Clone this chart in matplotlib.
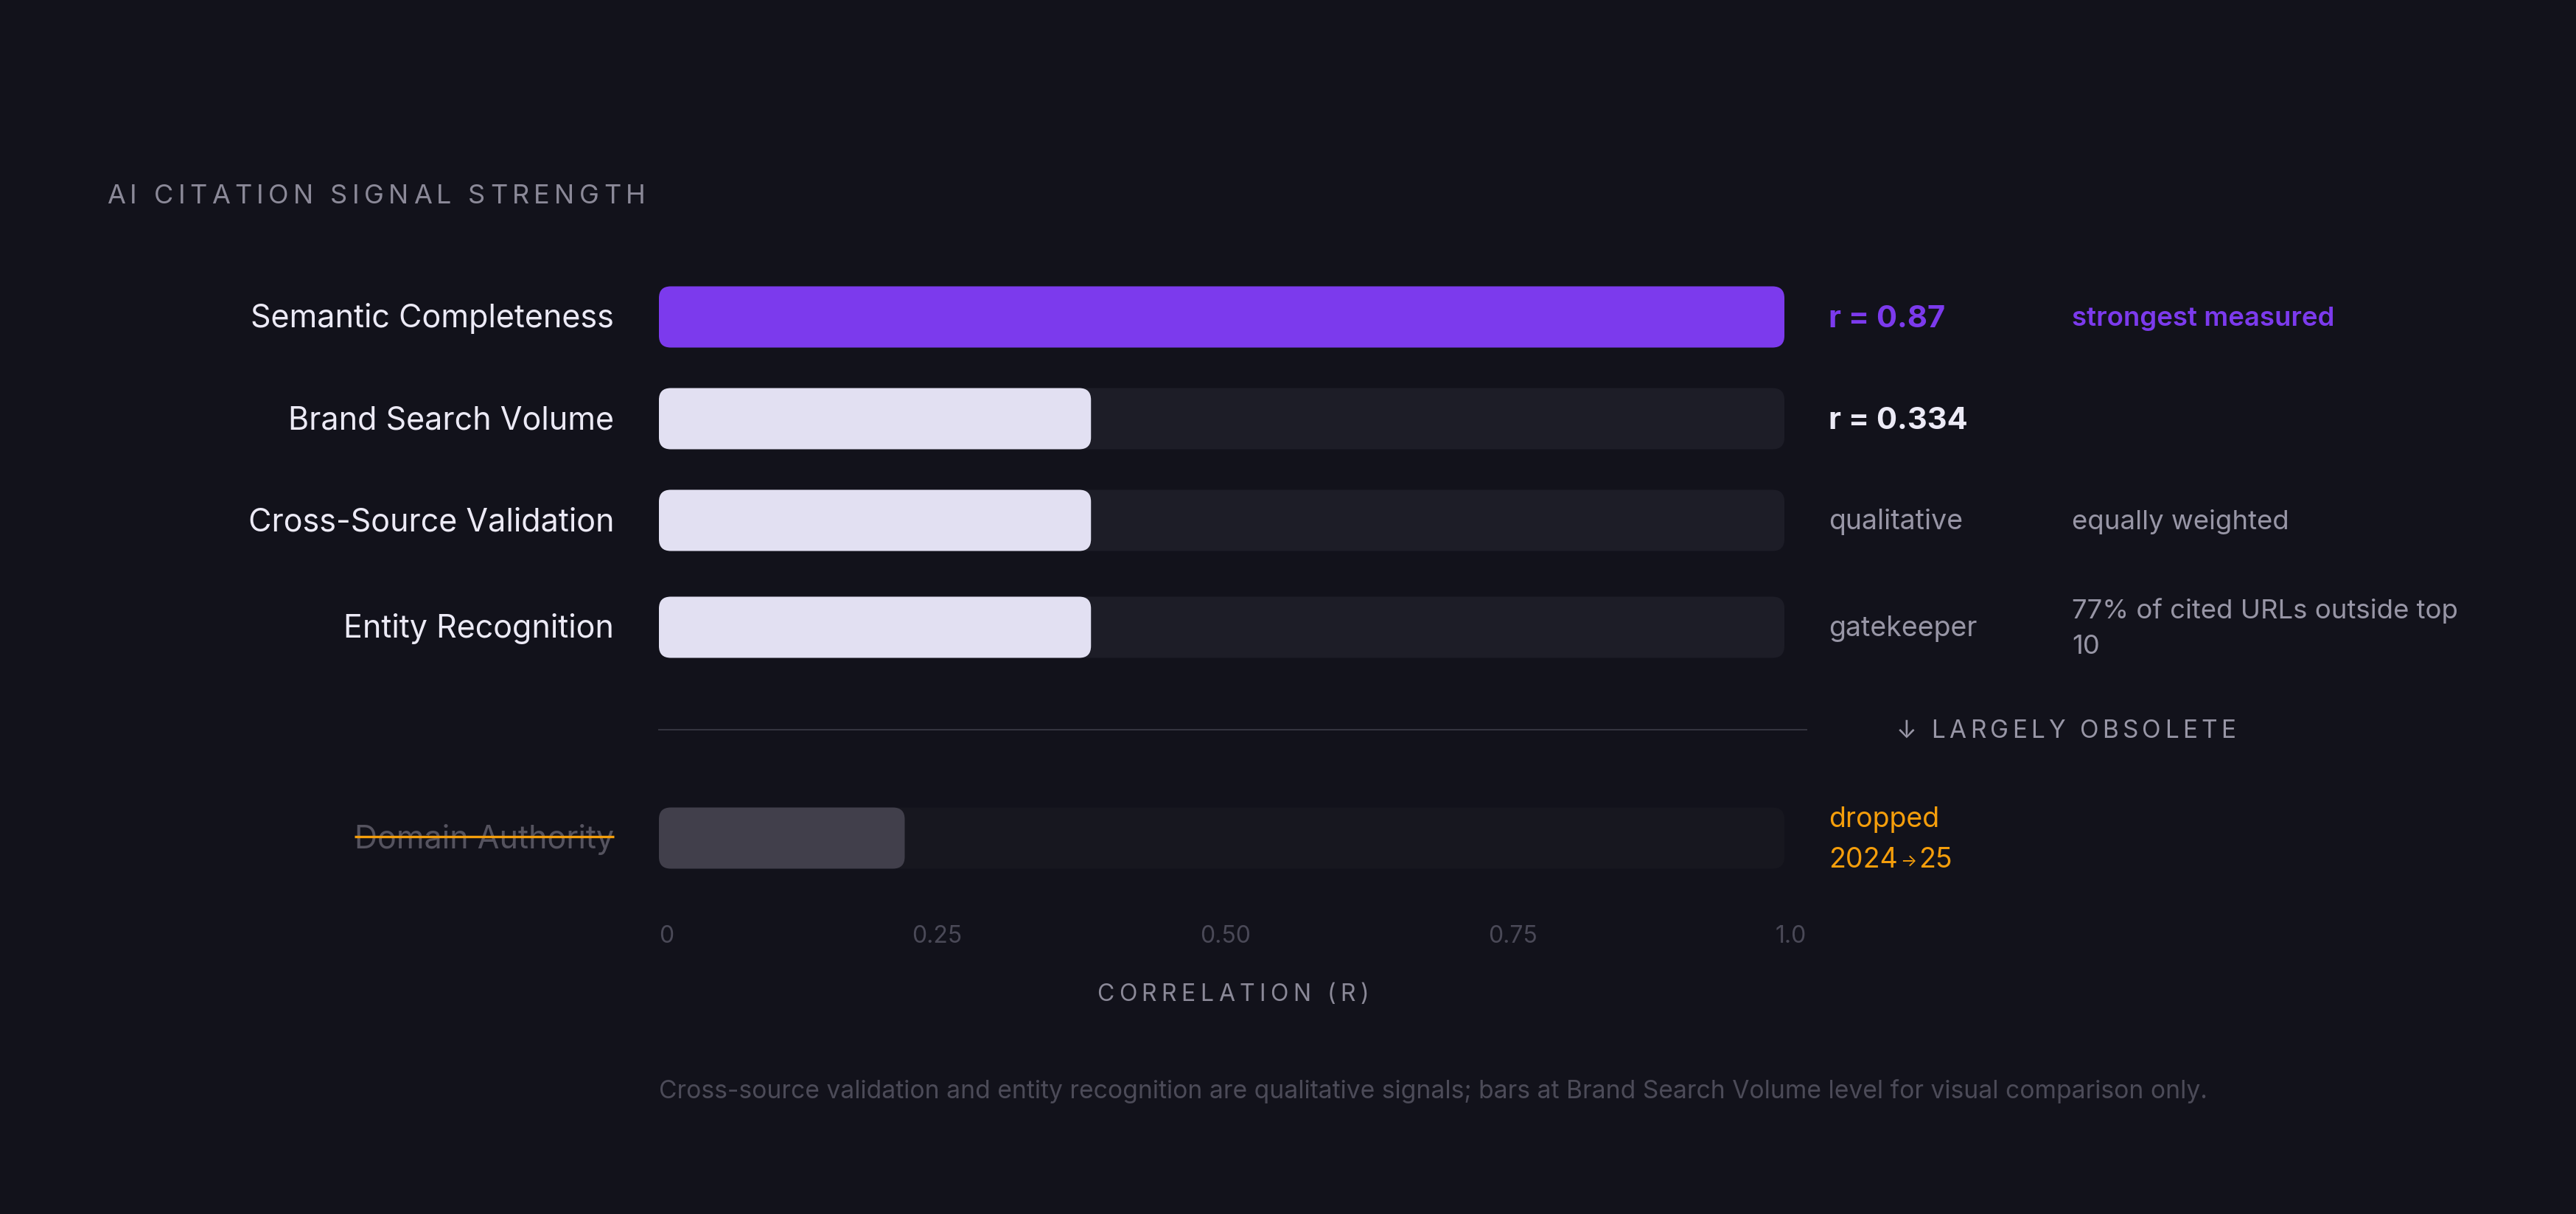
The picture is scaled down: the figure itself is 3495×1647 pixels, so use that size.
import textwrap
import matplotlib
matplotlib.use("Agg")
import matplotlib.pyplot as plt
from matplotlib.patches import FancyBboxPatch
from matplotlib.font_manager import FontProperties

W, H = 3495, 1647

# data
signals = ["Semantic Completeness", "Brand Search Volume", "Cross-Source Validation",
           "Entity Recognition", "Domain Authority"]
bar_r = [0.87, 0.334, 0.334, 0.334, 0.19]
value_labels = ["r = 0.87", "r = 0.334", "qualitative", "gatekeeper", "dropped 2024→25"]
notes = ["strongest measured", "", "equally weighted", "77% of cited URLs outside top 10", ""]
status = ["top", "measured", "qualitative", "qualitative", "obsolete"]
tick_labels = ["0", "0.25", "0.50", "0.75", "1.0"]

title = "AI CITATION SIGNAL STRENGTH"
divider_label = "↓ LARGELY OBSOLETE"
axis_label = "CORRELATION (R)"
footnote = ("Cross-source validation and entity recognition are qualitative signals; "
            "bars at Brand Search Volume level for visual comparison only.")

# style
FONT = ["Inter", "DejaVu Sans"]
BG = "#12121b"
PURPLE = "#7c3aed"
LIGHT = "#e2e0f2"
ORANGE = "#f59e0b"
WHITE = "#eceaf6"
GRAY = "#9896a6"
DIM = "#4a4957"

bar_color = {"top": PURPLE, "measured": LIGHT, "qualitative": LIGHT, "obsolete": "#413f4b"}
track_color = {"top": "#1d1d27", "measured": "#1d1d27", "qualitative": "#1d1d27", "obsolete": "#17171f"}
value_style = {"top": (PURPLE, "bold", 30), "measured": (WHITE, "bold", 30),
               "qualitative": (GRAY, "normal", 27), "obsolete": (ORANGE, "normal", 27)}

# layout (pixels)
row_y = [430, 568, 706, 851, 1137]
bar_h = 83
track_x0, track_x1 = 894, 2421
label_x, value_x, note_x = 833, 2481, 2811

plt.rcParams["font.family"] = FONT
fig = plt.figure(figsize=(W / 100, H / 100), dpi=100, facecolor=BG)
renderer = fig.canvas.get_renderer()

lay = fig.add_axes([0, 0, 1, 1])
lay.set_xlim(0, W)
lay.set_ylim(H, 0)
lay.axis("off")

bx = fig.add_axes([track_x0 / W, 0, (track_x1 - track_x0) / W, 1])
vmax = max(bar_r)
bx.set_xlim(0, vmax)
bx.set_ylim(H, 0)
bx.axis("off")
bx.patch.set_alpha(0)
x_per_px = vmax / (track_x1 - track_x0)


def text_width(s, size, weight="normal"):
    if not s:
        return 0
    fp = FontProperties(family=FONT, size=size, weight=weight)
    return renderer.get_text_width_height_descent(s, fp, ismath=False)[0]


def spaced(x, y, s, size, color, track, ha="left"):
    total = text_width(s, size) + track * (len(s) - 1)
    if ha == "center":
        x -= total / 2
    for i, ch in enumerate(s):
        if ch == " ":
            continue
        lay.text(x + text_width(s[:i], size) + track * i, y, ch, fontsize=size,
                 color=color, va="baseline", ha="left")


def line_with_small_arrow(x, y, ln, size, color, weight):
    # the arrow glyph sits smaller than the digits around it
    parts = ln.split("→")
    for k, part in enumerate(parts):
        lay.text(x, y, part, fontsize=size, color=color, fontweight=weight,
                 va="baseline", ha="left")
        x += text_width(part, size, weight)
        if k < len(parts) - 1:
            lay.text(x + 3, y - 0.1 * size, "→", fontsize=size * 0.62, color=color,
                     va="baseline", ha="left")
            x += text_width("→", size * 0.62) + 6


def lines_at(x, cy, lines, size, color, weight, step):
    em = size / 0.72
    base = cy + 0.33 * em - (len(lines) - 1) * step / 2
    for k, ln in enumerate(lines):
        line_with_small_arrow(x, base + k * step, ln, size, color, weight)


def rbar(ax, y, length, color, r_px=16):
    p = FancyBboxPatch((0, y - bar_h / 2), length, bar_h,
                       boxstyle=f"round,pad=0,rounding_size={r_px * x_per_px}",
                       mutation_aspect=1 / x_per_px, facecolor=color,
                       edgecolor="none", zorder=2)
    ax.add_patch(p)


# title
spaced(145, 276, title, 26, "#8b8998", 6.4)

for i, name in enumerate(signals):
    y = row_y[i]
    st = status[i]
    rbar(bx, y, vmax, track_color[st])
    rbar(bx, y, bar_r[i], bar_color[st])

    lab_size = 31
    lab_col = "#55535f" if st == "obsolete" else WHITE
    lay.text(label_x, y + 0.33 * lab_size / 0.72, name, fontsize=lab_size,
             color=lab_col, ha="right", va="baseline", zorder=3)
    if st == "obsolete":
        w = text_width(name, lab_size)
        lay.plot([label_x - w, label_x], [y - 2, y - 2], color=ORANGE, lw=2.4,
                 solid_capstyle="butt", zorder=5)

    col, wt, sz = value_style[st]
    vlines = textwrap.wrap(value_labels[i], 10, break_long_words=False)
    lines_at(value_x, y, vlines, sz, col, wt, 55)

    if notes[i]:
        ncol, nwt = (PURPLE, "semibold") if st == "top" else (GRAY, "normal")
        nlines = textwrap.wrap(notes[i], 30)
        lines_at(note_x, y, nlines, 26.3, ncol, nwt, 48)

# obsolete divider
lay.plot([894, 2451], [990, 990], color="#34343f", lw=1.5)
spaced(2803, 1001, divider_label, 24, GRAY, 5.3, ha="center")

# tick labels, spread edge to edge
tick_size = 23
widths = [text_width(t, tick_size) for t in tick_labels]
gap = (2451 - 894 - sum(widths)) / (len(tick_labels) - 1)
tx = 894
for t, w in zip(tick_labels, widths):
    lay.text(tx, 1279, t, fontsize=tick_size, color=DIM, ha="left", va="baseline")
    tx += w + gap

spaced((894 + 2451) / 2, 1358, axis_label, 23, "#8b8998", 6.5, ha="center")

lay.text(894, 1490, footnote, fontsize=24.2, color="#4c4b58", ha="left", va="baseline")

fig.savefig("out.png", dpi=100, facecolor=BG)
